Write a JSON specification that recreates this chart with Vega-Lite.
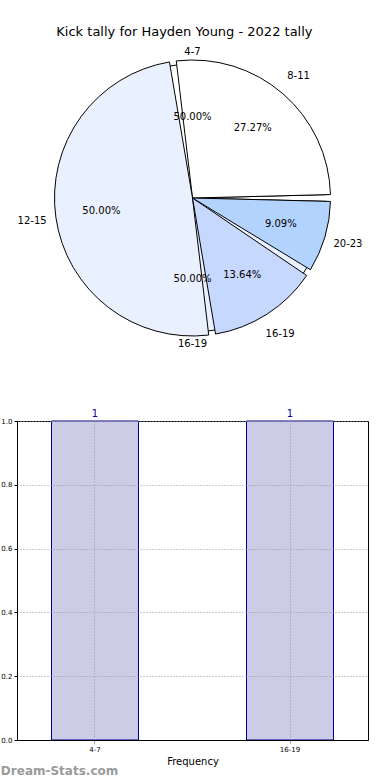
{
  "$schema": "https://vega.github.io/schema/vega-lite/v6.json",
  "padding": {"left": 0, "top": 26, "right": 5, "bottom": 0},
  "config": {
    "font": "DejaVu Sans",
    "view": {"stroke": null},
    "concat": {"spacing": 57}
  },
  "title": {"text": "Kick tally for Hayden Young - 2022 tally", "fontSize": 13, "fontWeight": "normal", "anchor": "middle", "color": "#000000", "offset": 6},
  "datasets": {
    "pieA": [
      {"bin": "8-11", "count": 6, "idx": 1, "pct": "27.27%"},
      {"bin": "12-15", "count": 11, "idx": 2, "pct": "50.00%"},
      {"bin": "16-19", "count": 3, "idx": 3, "pct": "13.64%"},
      {"bin": "20-23", "count": 2, "idx": 4, "pct": "9.09%"}
    ],
    "pieB": [
      {"bin": "4-7", "count": 1, "idx": 1, "pct": "50.00%"},
      {"bin": "16-19", "count": 1, "idx": 2, "pct": "50.00%"}
    ],
    "bars": [
      {"bin": "4-7", "count": 1},
      {"bin": "16-19", "count": 1}
    ]
  },
  "vconcat": [
    {
      "width": 351,
      "height": 306,
      "layer": [
        {
          "data": {"name": "pieB"},
          "mark": {"type": "arc", "outerRadius": 134, "stroke": "#000000", "strokeWidth": 1, "padAngle": 0.05},
          "encoding": {
            "theta": {"field": "count", "type": "quantitative", "stack": true, "scale": {"range": [1.5708, -4.7124]}},
            "order": {"field": "idx", "type": "quantitative"},
            "color": {"field": "bin", "type": "nominal", "scale": {"domain": ["4-7", "16-19"], "range": ["#ffffff", "#eaf1fe"]}, "legend": null}
          }
        },
        {
          "data": {"name": "pieA"},
          "mark": {"type": "arc", "outerRadius": 138, "stroke": "#000000", "strokeWidth": 1, "padAngle": 0.05},
          "encoding": {
            "theta": {"field": "count", "type": "quantitative", "stack": true, "scale": {"range": [1.5708, -4.7124]}},
            "order": {"field": "idx", "type": "quantitative"},
            "fill": {"field": "bin", "type": "nominal", "scale": {"domain": ["8-11", "12-15", "16-19", "20-23"], "range": ["#ffffff", "#eaf1fe", "#c6d8fe", "#b3d3ff"]}, "legend": null}
          }
        },
        {
          "data": {"name": "pieB"},
          "encoding": {
            "theta": {"field": "count", "type": "quantitative", "stack": true, "scale": {"range": [1.5708, -4.7124]}},
            "order": {"field": "idx", "type": "quantitative"}
          },
          "layer": [
            {
              "mark": {"type": "text", "radius": 81, "fontSize": 10, "color": "#000000"},
              "encoding": {"text": {"field": "pct"}}
            },
            {
              "mark": {"type": "text", "radius": 146, "fontSize": 10, "color": "#000000"},
              "encoding": {"text": {"field": "bin"}}
            }
          ]
        },
        {
          "data": {"name": "pieA"},
          "encoding": {
            "theta": {"field": "count", "type": "quantitative", "stack": true, "scale": {"range": [1.5708, -4.7124]}},
            "order": {"field": "idx", "type": "quantitative"}
          },
          "layer": [
            {
              "mark": {"type": "text", "radius": 92, "fontSize": 10, "color": "#000000"},
              "encoding": {"text": {"field": "pct"}}
            },
            {
              "mark": {"type": "text", "radius": 162, "fontSize": 10, "color": "#000000"},
              "encoding": {"text": {"field": "bin"}}
            }
          ]
        }
      ],
      "resolve": {"scale": {"theta": "independent", "color": "independent"}}
    },
    {
      "width": 351,
      "height": 319,
      "data": {"name": "bars"},
      "title": {"text": "Dream-Stats.com", "orient": "bottom", "anchor": "start", "frame": "bounds", "fontSize": 12, "fontWeight": "bold", "color": "#9a9a9a", "offset": 0},
      "view": {"stroke": "#000000", "strokeWidth": 1},
      "encoding": {
        "x": {
          "field": "bin", "type": "nominal", "sort": ["4-7", "16-19"],
          "scale": {"paddingInner": 0.554, "paddingOuter": 0.177},
          "axis": {"title": "Frequency", "titleFontSize": 10, "titleFontWeight": "normal", "titleColor": "#000000", "titlePadding": 4, "labelAngle": 0, "labelFontSize": 7, "labelColor": "#000000", "bandPosition": 0.5, "grid": true, "gridDash": [1, 2], "gridColor": "#999999", "tickSize": 3, "tickColor": "#999999", "domainColor": "#000000", "zindex": 1}
        },
        "y": {
          "field": "count", "type": "quantitative",
          "scale": {"domain": [0, 1]},
          "axis": {"title": null, "values": [0, 0.2, 0.4, 0.6, 0.8, 1.0], "format": ".1f", "labelFontSize": 7, "labelColor": "#000000", "grid": true, "gridDash": [1, 2], "gridColor": "#999999", "tickSize": 3, "tickColor": "#000000", "domainColor": "#000000", "zindex": 1}
        }
      },
      "layer": [
        {"mark": {"type": "bar", "fill": "#cccce6", "stroke": "#00008b", "strokeWidth": 1}},
        {"mark": {"type": "text", "dy": -2, "fontSize": 10, "color": "#0000a0", "baseline": "bottom"}, "encoding": {"text": {"field": "count", "type": "quantitative"}}}
      ]
    }
  ]
}
